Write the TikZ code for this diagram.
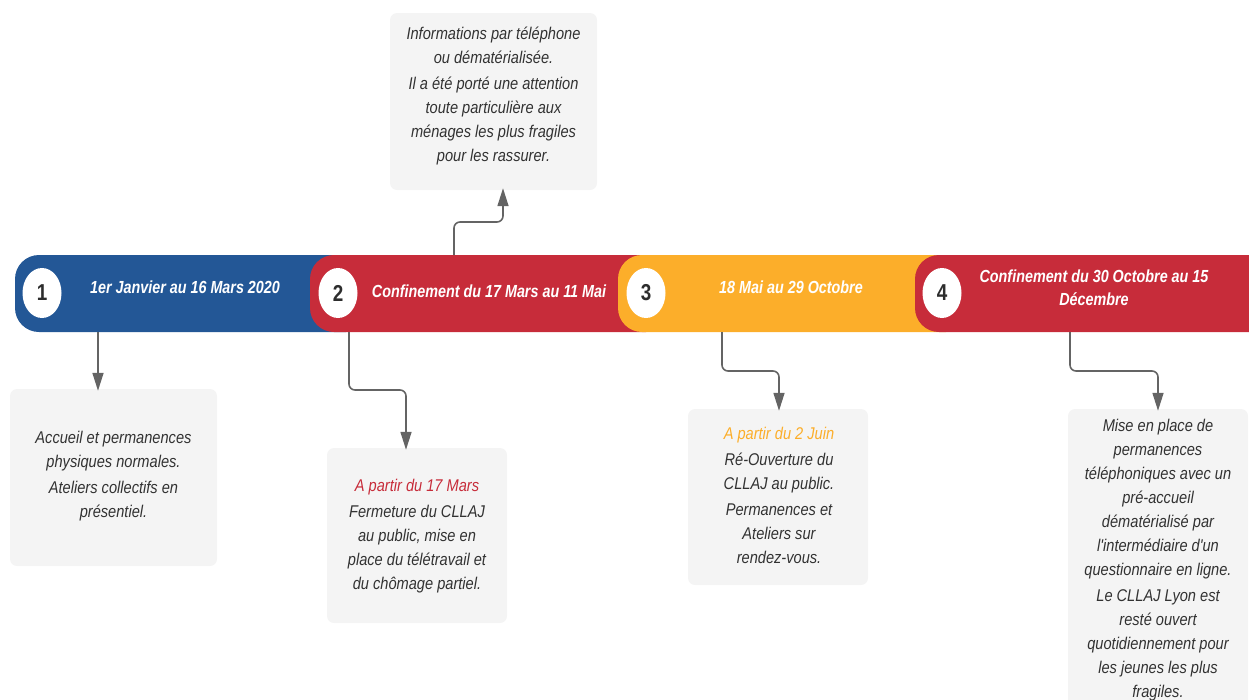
\documentclass[tikz,border=0pt]{standalone}
\usepackage{fontspec}
\setmainfont{Liberation Sans}
\newfontfamily\bodyfont{Liberation Sans}[FakeStretch=0.86]
\newfontfamily\titlefont{Liberation Sans}[FakeStretch=0.82]
\usetikzlibrary{arrows.meta,shapes.geometric}
\definecolor{bandblue}{RGB}{35,87,150}
\definecolor{bandred}{RGB}{199,44,58}
\definecolor{bandorange}{RGB}{252,174,42}
\definecolor{boxgray}{RGB}{244,244,244}
\definecolor{linegray}{RGB}{100,100,100}
\definecolor{textgray}{RGB}{50,50,50}
\definecolor{numgray}{RGB}{45,45,45}
\tikzset{
  seg/.style={rounded corners=24},
  numdot/.style={ellipse, fill=white, minimum width=39pt, minimum height=50pt, inner sep=0pt,
    text=numgray, font=\titlefont\bfseries\fontsize{23}{23}\selectfont},
  title/.style={text=white, align=center, inner sep=0pt,
    font=\titlefont\bfseries\itshape\fontsize{17.5}{23}\selectfont},
  card/.style={fill=boxgray, rounded corners=7, inner sep=0pt, draw=none},
  body/.style={text=textgray, align=center, inner sep=0pt,
    font=\bodyfont\itshape\fontsize{17}{24}\selectfont},
  conn/.style={draw=linegray, line width=1.6pt, rounded corners=6,
    -{Triangle[length=18pt,width=11pt]}}
}
\begin{document}
\begin{tikzpicture}[x=1pt,y=-1pt]
\useasboundingbox (0,0) rectangle (1249,699);
\clip (0,0) rectangle (1249,699);
% band segments
\fill[bandblue, seg] (15,255) rectangle (370,332);
\fill[bandred, seg] (310,255) rectangle (670,332);
\fill[bandorange, seg] (618,255) rectangle (970,332);
\fill[bandred, seg] (915,255) rectangle (1300,332);
% numbers
\node[numdot] (n1) at (42,293) {1};
\node[numdot] (n2) at (338,293) {2};
\node[numdot] (n3) at (646,293) {3};
\node[numdot] (n4) at (942,293) {4};
% titles
\node[title, anchor=base] (h1) at (185,293) {1er Janvier au 16 Mars 2020};
\node[title, anchor=base] (h2) at (489,297) {Confinement du 17 Mars au 11 Mai};
\node[title, anchor=base] (h3) at (791,293) {18 Mai au 29 Octobre};
\node[title] (h4) at (1094,288) {Confinement du 30 Octobre au 15\\Décembre};
% cards
\node[card, minimum width=207pt, minimum height=177pt] (bt) at (493.5,101.5) {};
\node[card, minimum width=207pt, minimum height=177pt] (b1) at (113.5,477.5) {};
\node[card, minimum width=180pt, minimum height=175pt] (b2) at (417,535.5) {};
\node[card, minimum width=180pt, minimum height=176pt] (b3) at (778,497) {};
\node[card, minimum width=180pt, minimum height=311pt] (b4) at (1158,564.5) {};
% texts
\node[body] (tt) at (493.5,96) {Informations par téléphone\\ou dématérialisée.\\[2pt]Il a été porté une attention\\toute particulière aux\\ménages les plus fragiles\\pour les rassurer.};
\node[body] (t1) at (113.5,476) {Accueil et permanences\\physiques normales.\\[2pt]Ateliers collectifs en\\présentiel.};
\node[body] (t2) at (417,536) {\textcolor{bandred}{A partir du 17 Mars}\\[2pt]Fermeture du CLLAJ\\au public, mise en\\place du télétravail et\\du chômage partiel.};
\node[body] (t3) at (779,495.5) {\textcolor{bandorange}{A partir du 2 Juin}\\[2pt]Ré-Ouverture du\\CLLAJ au public.\\[2pt]Permanences et\\Ateliers sur\\rendez-vous.};
\node[body] (t4) at (1158,560) {Mise en place de\\permanences\\téléphoniques avec un\\pré-accueil\\dématérialisé par\\l'intermédiaire d'un\\questionnaire en ligne.\\[2pt]Le CLLAJ Lyon est\\resté ouvert\\quotidiennement pour\\les jeunes les plus\\fragiles.};
% connector anchors
\coordinate (c1) at (98,332);
\coordinate (ct) at (454,255);
\coordinate (ctk) at (503,222);
\coordinate (c2) at (349,332);
\coordinate (c2k) at (406,390);
\coordinate (c3) at (722,332);
\coordinate (c3k) at (779,371);
\coordinate (c4) at (1070,332);
\coordinate (c4k) at (1158,371);
% connectors
\draw[conn] (c1) -- ([yshift=-2pt]c1 |- b1.north);
\draw[conn] (ct) |- (ctk) -- ([yshift=2pt]ctk |- bt.south);
\draw[conn] (c2) |- (c2k) -- ([yshift=-2pt]c2k |- b2.north);
\draw[conn] (c3) |- (c3k) -- ([yshift=-2pt]c3k |- b3.north);
\draw[conn] (c4) |- (c4k) -- ([yshift=-2pt]c4k |- b4.north);
\end{tikzpicture}
\end{document}
